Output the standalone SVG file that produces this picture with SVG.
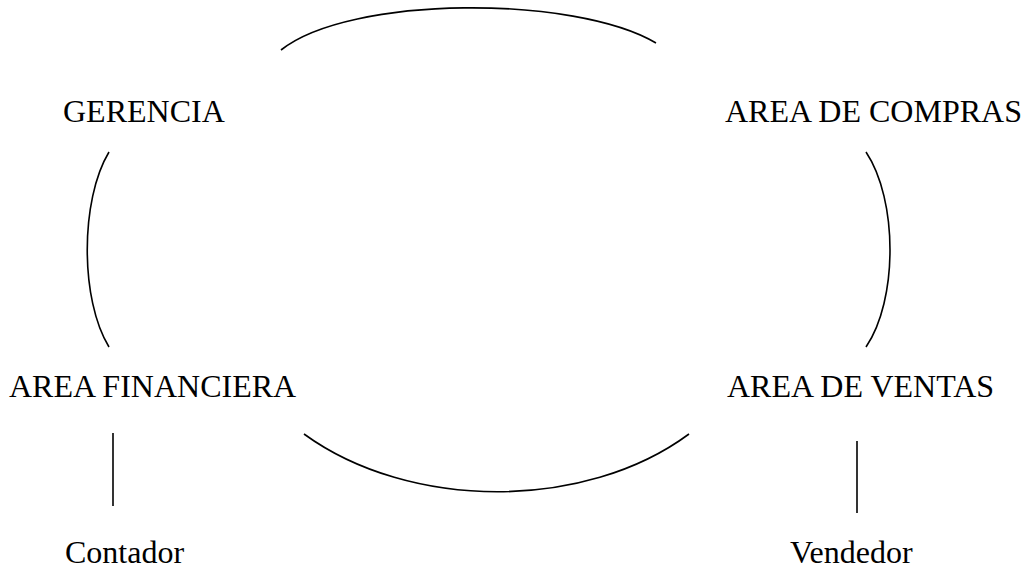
<svg xmlns="http://www.w3.org/2000/svg" width="1025" height="569" viewBox="0 0 1025 569">
<style>
text{font-family:"Liberation Serif","Times New Roman",serif;font-size:32px;fill:#000}
.c{fill:none;stroke:#000;stroke-width:1.6}
</style>
<rect width="1025" height="569" fill="#fff"/>
<g id="connectors">
<path class="c" d="M281,50 C350,-5 575,-5 656,43"/>
<path class="c" d="M109,152 C80,200 80,300 109,347"/>
<path class="c" d="M866,152 C898,200 898,300 866,347"/>
<path class="c" d="M304,434 C410,511 585,511 689,434"/>
<path class="c" d="M113,433 L113,506"/>
<path class="c" d="M857,441 L857,513"/>
</g>
<g id="gerencia"><text x="63" y="122">GERENCIA</text></g>
<g id="compras"><text x="725" y="122">AREA DE COMPRAS</text></g>
<g id="financiera"><text x="9" y="397">AREA FINANCIERA</text></g>
<g id="ventas"><text x="727" y="397">AREA DE VENTAS</text></g>
<g id="contador"><text x="65" y="563">Contador</text></g>
<g id="vendedor"><text x="790" y="563">Vendedor</text></g>
</svg>
